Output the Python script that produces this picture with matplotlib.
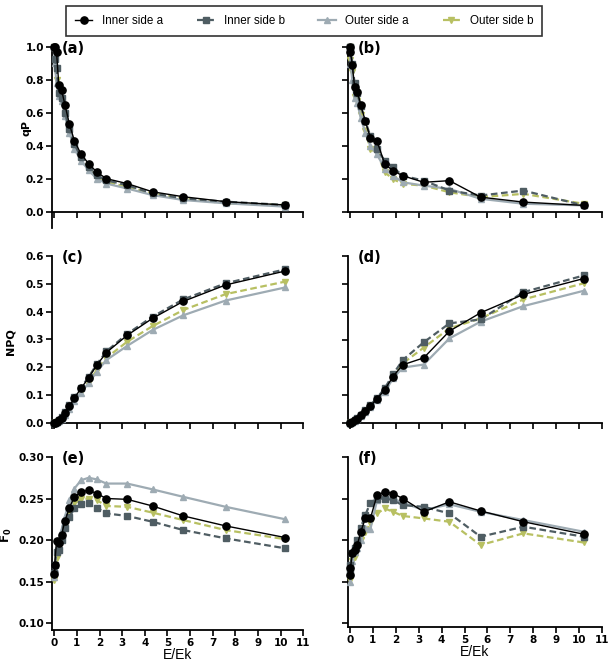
import matplotlib
matplotlib.use('Agg')
import matplotlib.pyplot as plt

# E/Ek values (same light steps for every sample)
x = [0, 0.02, 0.1, 0.2, 0.32, 0.47, 0.67, 0.89, 1.18, 1.52, 1.88, 2.3, 3.22, 4.34, 5.7, 7.57, 10.2]

labels = ['Inner side a', 'Inner side b', 'Outer side a', 'Outer side b']
colors = ['black', '#4f5d63', '#9eabb3', '#b8c062']
markers = ['o', 's', '^', 'v']
styles = ['-', (0, (3, 1.6)), '-', (0, (3, 1.6))]

# (a) qP, left
a_inner_a = [1.0, 1.0, 0.97, 0.77, 0.74, 0.65, 0.53, 0.43, 0.35, 0.29, 0.24, 0.20, 0.17, 0.12, 0.09, 0.06, 0.04]
a_inner_b = [1.0, 0.93, 0.87, 0.72, 0.69, 0.60, 0.50, 0.41, 0.33, 0.27, 0.22, 0.19, 0.16, 0.11, 0.08, 0.06, 0.04]
a_outer_a = [1.0, 0.90, 0.78, 0.70, 0.67, 0.58, 0.48, 0.38, 0.31, 0.25, 0.20, 0.17, 0.14, 0.10, 0.07, 0.05, 0.03]
a_outer_b = [1.0, 0.91, 0.80, 0.71, 0.68, 0.59, 0.49, 0.39, 0.32, 0.26, 0.21, 0.18, 0.15, 0.11, 0.08, 0.05, 0.04]

# (b) qP, right
b_inner_a = [1.0, 0.97, 0.89, 0.76, 0.73, 0.65, 0.55, 0.45, 0.43, 0.29, 0.25, 0.22, 0.18, 0.19, 0.09, 0.06, 0.04]
b_inner_b = [1.0, 1.0, 0.90, 0.78, 0.72, 0.64, 0.55, 0.46, 0.38, 0.31, 0.27, 0.22, 0.19, 0.13, 0.10, 0.13, 0.04]
b_outer_a = [1.0, 0.90, 0.80, 0.69, 0.66, 0.57, 0.48, 0.40, 0.35, 0.26, 0.22, 0.18, 0.16, 0.14, 0.08, 0.05, 0.04]
b_outer_b = [1.0, 0.92, 0.85, 0.70, 0.67, 0.59, 0.49, 0.38, 0.36, 0.24, 0.20, 0.17, 0.16, 0.12, 0.09, 0.11, 0.05]

# (c) NPQ, left
c_inner_a = [0, 0, 0.005, 0.010, 0.018, 0.036, 0.061, 0.090, 0.124, 0.163, 0.208, 0.253, 0.315, 0.376, 0.437, 0.496, 0.546]
c_inner_b = [0, 0, 0.005, 0.011, 0.020, 0.038, 0.063, 0.092, 0.126, 0.166, 0.211, 0.257, 0.320, 0.382, 0.444, 0.502, 0.552]
c_outer_a = [0, 0, 0.003, 0.007, 0.014, 0.030, 0.052, 0.079, 0.108, 0.144, 0.184, 0.226, 0.277, 0.334, 0.387, 0.440, 0.487]
c_outer_b = [0, 0, 0.004, 0.008, 0.016, 0.032, 0.055, 0.082, 0.112, 0.149, 0.190, 0.234, 0.292, 0.348, 0.406, 0.463, 0.508]

# (d) NPQ, right
d_inner_a = [0, 0, 0.003, 0.009, 0.016, 0.027, 0.043, 0.061, 0.087, 0.120, 0.167, 0.209, 0.234, 0.330, 0.396, 0.462, 0.519]
d_inner_b = [0, 0, 0.003, 0.009, 0.017, 0.028, 0.045, 0.064, 0.090, 0.125, 0.175, 0.226, 0.290, 0.358, 0.372, 0.470, 0.530]
d_outer_a = [0, 0, 0.002, 0.007, 0.014, 0.024, 0.040, 0.057, 0.082, 0.113, 0.160, 0.199, 0.210, 0.304, 0.364, 0.420, 0.475]
d_outer_b = [0, 0, 0.003, 0.008, 0.015, 0.026, 0.042, 0.060, 0.085, 0.118, 0.165, 0.214, 0.271, 0.340, 0.376, 0.444, 0.502]

# (e) F0, left
e_inner_a = [0.159, 0.170, 0.199, 0.196, 0.206, 0.223, 0.239, 0.252, 0.258, 0.260, 0.256, 0.250, 0.249, 0.241, 0.229, 0.217, 0.203]
e_inner_b = [0.160, 0.170, 0.185, 0.188, 0.200, 0.215, 0.228, 0.238, 0.243, 0.244, 0.239, 0.232, 0.229, 0.222, 0.212, 0.202, 0.190]
e_outer_a = [0.155, 0.165, 0.190, 0.200, 0.212, 0.228, 0.248, 0.262, 0.272, 0.275, 0.273, 0.268, 0.268, 0.261, 0.252, 0.240, 0.225]
e_outer_b = [0.152, 0.165, 0.178, 0.185, 0.200, 0.218, 0.233, 0.244, 0.249, 0.250, 0.248, 0.241, 0.240, 0.233, 0.224, 0.212, 0.201]

# (f) F0, right
f_inner_a = [0.158, 0.166, 0.184, 0.188, 0.194, 0.210, 0.226, 0.226, 0.254, 0.258, 0.256, 0.250, 0.234, 0.246, 0.235, 0.222, 0.207]
f_inner_b = [0.160, 0.170, 0.184, 0.190, 0.200, 0.215, 0.230, 0.245, 0.250, 0.250, 0.248, 0.242, 0.240, 0.232, 0.204, 0.216, 0.204]
f_outer_a = [0.149, 0.160, 0.175, 0.185, 0.190, 0.200, 0.215, 0.213, 0.248, 0.252, 0.250, 0.245, 0.236, 0.243, 0.234, 0.224, 0.210]
f_outer_b = [0.152, 0.160, 0.175, 0.180, 0.190, 0.200, 0.210, 0.220, 0.232, 0.238, 0.234, 0.229, 0.226, 0.222, 0.194, 0.208, 0.197]

##############################################################################

W, H = 608, 664
fig = plt.figure(figsize=(W / 100, H / 100), dpi=100)

def make_axes(left, right, top, bottom):
    return fig.add_axes([left / W, 1 - bottom / H, (right - left) / W, (bottom - top) / H])

def draw(ax, series, ylim, yticks, yfmt, tag, xlabels):
    # plot order: outer first, black on top
    for i in [2, 3, 1, 0]:
        ax.plot(x, series[i], color=colors[i], marker=markers[i], linestyle=styles[i],
                linewidth=1.0 if i == 0 else 1.6, markersize=5.2 if i == 0 else 4.8,
                label=labels[i], clip_on=False, zorder=3 + (3 - i))
    ax.set_xlim(-0.1, 11)
    ax.set_ylim(*ylim)
    ax.set_xticks(range(0, 12))
    ax.set_yticks(yticks)
    ax.spines['top'].set_visible(False)
    ax.spines['right'].set_visible(False)
    for s in ['left', 'bottom']:
        ax.spines[s].set_linewidth(1.3)
    ax.tick_params(direction='out', length=4, width=1.2, labelsize=7.5, pad=1.5)
    if yfmt:
        ax.set_yticklabels([yfmt % v for v in yticks], fontweight='bold')
    else:
        ax.set_yticklabels([])
    if xlabels:
        ax.set_xticklabels([str(v) for v in range(0, 12)], fontweight='bold')
        ax.set_xlabel('E/Ek', family='Liberation Sans', fontsize=10, labelpad=0)
    else:
        ax.set_xticklabels([])
    ax.text(0.04, 1.035, tag, transform=ax.transAxes, fontsize=10.5, fontweight='bold', va='top')

L0, L1 = 52, 303.3
R0, R1 = 347.7, 602

ax_a = make_axes(L0, L1, 47, 228)
draw(ax_a, [a_inner_a, a_inner_b, a_outer_a, a_outer_b], (-0.1, 1.0),
     [0, 0.2, 0.4, 0.6, 0.8, 1.0], '%.1f', '(a)', False)
ax_a.spines['bottom'].set_position(('data', 0))
ax_a.set_ylabel('qP', fontweight='bold', fontsize=8)
ax_a.yaxis.set_label_coords((31 - L0) / (L1 - L0), 0.55)

ax_b = make_axes(R0, R1, 47, 212)
draw(ax_b, [b_inner_a, b_inner_b, b_outer_a, b_outer_b], (0, 1.0),
     [0, 0.2, 0.4, 0.6, 0.8, 1.0], None, '(b)', False)

ax_c = make_axes(L0, L1, 256, 428)
draw(ax_c, [c_inner_a, c_inner_b, c_outer_a, c_outer_b], (-0.018, 0.6),
     [0, 0.1, 0.2, 0.3, 0.4, 0.5, 0.6], '%.1f', '(c)', False)
ax_c.spines['bottom'].set_position(('data', 0))
ax_c.set_ylabel('NPQ', fontweight='bold', fontsize=8)
ax_c.yaxis.set_label_coords((15 - L0) / (L1 - L0), 0.5)

ax_d = make_axes(R0, R1, 256, 423)
draw(ax_d, [d_inner_a, d_inner_b, d_outer_a, d_outer_b], (0, 0.6),
     [0, 0.1, 0.2, 0.3, 0.4, 0.5, 0.6], None, '(d)', False)

ax_e = make_axes(L0, L1, 457, 630)
draw(ax_e, [e_inner_a, e_inner_b, e_outer_a, e_outer_b], (0.0916, 0.30),
     [0.10, 0.15, 0.20, 0.25, 0.30], '%.2f', '(e)', True)
ax_e.set_ylabel(r'F$_\mathbf{0}$', fontweight='bold', fontsize=8.5)
ax_e.yaxis.set_label_coords((14 - L0) / (L1 - L0), 0.55)

ax_f = make_axes(R0, R1, 457, 627)
draw(ax_f, [f_inner_a, f_inner_b, f_outer_a, f_outer_b], (0.0952, 0.30),
     [0.10, 0.15, 0.20, 0.25, 0.30], None, '(f)', True)

# legend on top, in the original series order
h, l = ax_a.get_legend_handles_labels()
order = [l.index(s) for s in labels]
leg = fig.legend([h[i] for i in order], labels, loc='upper center', bbox_to_anchor=(0.5, 0.999),
                 ncol=4, fancybox=False, edgecolor='#333333', framealpha=1,
                 prop={'family': 'Liberation Sans', 'size': 8.4},
                 handlelength=1.5, handletextpad=0.8, columnspacing=2.9, borderpad=0.75)
leg.get_frame().set_linewidth(1.2)

fig.savefig('out.png', dpi=100)
